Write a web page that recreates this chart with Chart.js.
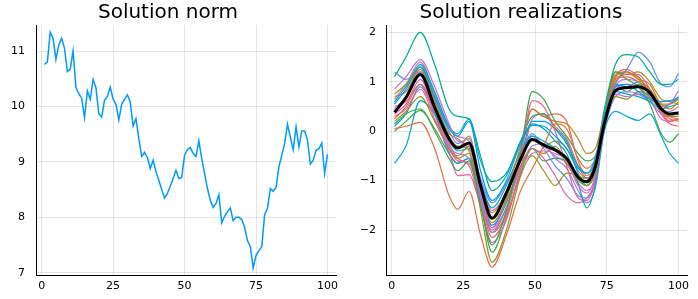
<!DOCTYPE html>
<html>
<head>
<meta charset="utf-8">
<script src="https://cdn.jsdelivr.net/npm/chart.js@4/dist/chart.umd.min.js"></script>
<style>
  body { margin: 0; width: 698px; height: 299px; overflow: hidden; position: relative; background: #fff; }
  canvas { position: absolute; top: 0; }
</style>
</head>
<body>
<canvas id="normChart" width="372" height="299" style="left:0px"></canvas>
<canvas id="realChart" width="362" height="299" style="left:355px"></canvas>
<script>
// Left panel: norm of the solution at steps 1..100
const normValues = [
  10.76, 10.80, 11.34, 11.23, 10.85, 11.11, 11.23, 11.05, 10.63, 10.67,
  11.00, 10.34, 10.23, 10.15, 9.80, 10.28, 10.13, 10.49, 10.34, 9.87,
  9.81, 10.11, 10.18, 10.35, 10.13, 10.04, 9.76, 10.04, 10.13, 10.21,
  10.08, 9.65, 9.78, 9.42, 9.10, 9.17, 9.08, 8.88, 9.03, 8.82,
  8.67, 8.50, 8.35, 8.43, 8.56, 8.70, 8.85, 8.70, 8.72, 9.12,
  9.22, 9.26, 9.15, 9.10, 9.38, 9.06, 8.79, 8.52, 8.31, 8.18,
  8.25, 8.41, 7.90, 8.02, 8.10, 8.17, 7.94, 8.00, 8.00, 7.96,
  7.82, 7.58, 7.47, 7.09, 7.31, 7.40, 7.47, 8.05, 8.16, 8.52,
  8.47, 8.54, 8.91, 9.12, 9.33, 9.68, 9.45, 9.22, 9.63, 9.27,
  9.56, 9.56, 9.39, 8.96, 9.03, 9.21, 9.24, 9.34, 8.79, 9.14
];

// Right panel: realizations sampled at these x positions
const realX = [1, 5, 10, 15, 20, 23, 27, 31, 35, 40, 45, 49, 53, 57, 61, 65, 68, 71, 74, 78, 82, 86, 90, 94, 97, 100];

const meanValues = [0.38, 0.68, 1.15, 0.48, -0.15, -0.34, -0.24, -1.10, -1.76, -1.25, -0.56, -0.17, -0.28, -0.38, -0.55, -0.93, -1.02, -0.72, 0.12, 0.82, 0.88, 0.90, 0.78, 0.45, 0.35, 0.37];

const realizations = [
  [0.55, 0.85, 1.30, 0.70, 0.05, -0.10, 0.20, -0.80, -1.40, -1.00, -0.25, 0.12, 0.10, -0.10, -0.35, -0.75, -0.85, -0.55, 0.25, 0.90, 0.95, 0.80, 0.65, 0.60, 0.62, 0.68],
  [0.05, 0.10, 0.18, -0.35, -1.30, -1.58, -1.22, -2.10, -2.75, -2.10, -1.20, -0.76, -0.30, 0.15, 0.05, -0.55, -0.75, -0.55, 0.20, 1.05, 1.10, 1.00, 0.80, 0.40, 0.25, 0.20],
  [0.15, 0.35, 0.45, 0.00, -0.55, -0.80, -0.60, -1.50, -2.30, -1.60, -0.40, 0.80, 0.65, 0.20, -0.10, -0.45, -0.60, -0.50, 0.30, 1.20, 1.05, 0.90, 0.55, -0.05, -0.22, -0.05],
  [0.85, 1.10, 1.45, 0.90, 0.15, -0.20, -0.30, -1.25, -1.95, -1.55, -0.75, -0.45, -0.40, -0.45, -0.60, -1.10, -1.25, -0.90, 0.05, 0.75, 0.70, 0.75, 0.65, 0.50, 0.55, 0.82],
  [0.75, 0.95, 1.30, 0.60, -0.05, -0.15, -0.40, -1.20, -1.85, -1.40, -0.70, -0.35, -0.45, -0.30, -0.65, -1.00, -1.10, -0.80, 0.20, 1.10, 1.20, 1.05, 0.85, 0.55, 0.45, 0.60],
  [0.60, 0.90, 1.35, 0.80, 0.10, -0.05, 0.25, -0.60, -1.02, -0.85, -0.20, 0.15, 0.05, -0.20, -0.45, -1.05, -1.55, -1.10, 0.00, 0.80, 0.75, 0.70, 0.60, 0.45, 0.50, 0.55],
  [0.30, 0.45, 0.85, 0.25, -0.40, -0.90, -0.88, -1.50, -2.00, -1.55, -0.55, 0.62, 0.50, 0.00, -0.70, -1.35, -1.40, -1.00, 0.10, 1.05, 1.15, 1.15, 0.85, 0.40, 0.20, 0.25],
  [0.70, 0.80, 1.25, 0.55, -0.20, -0.35, -0.10, -1.05, -1.65, -1.20, -0.30, 0.45, 0.30, 0.20, 0.15, -0.15, -0.45, -0.35, 0.30, 1.00, 1.15, 1.10, 0.75, 0.55, 0.55, 0.65],
  [1.10, 1.50, 2.00, 1.35, 0.45, 0.30, 0.25, -0.50, -1.20, -0.90, -0.20, 0.30, 0.35, 0.05, -0.25, -0.70, -0.85, -0.60, 0.40, 1.35, 1.55, 1.50, 1.20, 0.95, 0.95, 1.05],
  [0.20, 0.40, 0.70, 0.20, -0.35, -0.55, -0.45, -1.60, -2.65, -2.00, -0.90, -0.50, -0.80, -1.10, -0.85, -0.90, -1.05, -0.80, 0.10, 0.70, 0.65, 0.80, 0.70, 0.40, 0.30, 0.30],
  [-0.65, -0.30, 0.62, 0.35, -0.20, -0.40, -0.35, -1.05, -1.55, -1.10, -0.40, -0.10, -0.20, -0.35, -0.55, -0.95, -1.10, -0.85, 0.00, 0.40, 0.30, 0.22, 0.35, -0.10, -0.45, -0.65],
  [0.45, 0.70, 1.20, 0.55, -0.30, -0.45, -0.55, -1.35, -2.05, -1.55, -0.70, -0.30, -0.25, -0.55, -0.75, -1.20, -1.45, -1.15, -0.05, 0.70, 0.80, 0.75, 0.60, 0.35, 0.30, 0.40],
  [1.20, 1.05, 1.20, 0.65, 0.00, -0.25, -0.15, -0.95, -1.45, -1.05, -0.45, -0.05, -0.35, -0.70, -0.95, -1.30, -1.35, -1.00, 0.05, 0.95, 1.25, 1.60, 1.40, 0.95, 0.90, 1.17],
  [0.50, 0.60, 0.95, 0.35, -0.35, -0.60, -0.65, -1.40, -2.15, -1.70, -0.75, 0.25, 0.35, 0.10, -0.15, -0.70, -0.95, -0.75, 0.15, 1.10, 1.25, 1.10, 0.80, 0.35, 0.15, 0.10],
  [0.35, 0.55, 1.05, 0.40, -0.25, -0.55, -0.70, -1.50, -2.25, -1.80, -0.80, -0.35, -0.55, -0.90, -1.30, -1.45, -1.35, -1.00, 0.00, 0.85, 0.95, 0.90, 0.65, 0.25, 0.20, 0.25],
  [0.10, 0.35, 0.90, 0.35, -0.45, -0.65, -0.55, -1.30, -1.90, -1.45, -0.55, 0.20, 0.20, 0.05, -0.20, -0.85, -1.10, -0.80, 0.15, 0.95, 0.90, 1.00, 0.70, 0.50, 0.55, 0.65],
  [0.25, 0.50, 0.95, 0.45, -0.30, -0.50, -0.30, -1.25, -1.95, -1.35, -0.45, 0.45, 0.30, 0.35, 0.20, -0.60, -0.90, -0.65, 0.30, 1.15, 1.20, 1.05, 0.95, 0.50, 0.30, 0.25],
  [0.00, 0.20, 0.42, 0.05, -0.45, -0.65, -0.55, -1.45, -2.45, -1.75, -0.85, -0.35, -0.60, -0.55, -0.60, -0.90, -0.95, -0.65, 0.25, 0.95, 0.80, 0.95, 0.75, 0.45, 0.55, 0.70],
  [0.65, 0.95, 1.40, 0.75, 0.10, -0.10, -0.20, -1.00, -1.60, -1.25, -0.60, -0.10, -0.30, -0.50, -0.65, -1.05, -1.20, -0.95, 0.10, 0.90, 1.05, 1.00, 0.80, 0.45, 0.40, 0.50],
  [0.40, 0.70, 1.30, 0.65, -0.10, -0.30, -0.35, -1.20, -2.05, -1.65, -0.60, -0.15, -0.30, -0.20, -0.35, -0.80, -0.95, -0.75, 0.20, 1.20, 1.15, 1.20, 1.00, 0.65, 0.60, 0.55]
];

const realColors = [
  "#009AFA", "#E36F47", "#3EA44E", "#C371D2", "#AC8E18",
  "#00AAAE", "#ED5E93", "#C68225", "#00A98D", "#8E971E",
  "#00A9CB", "#9B7FE8", "#618DF5", "#F05F73", "#DD65B6",
  "#009AFA", "#E36F47", "#3EA44E", "#C371D2", "#AC8E18"
];

const xTicks = [0, 25, 50, 75, 100];
const normYTicks = [7, 8, 9, 10, 11];
const realYTicks = [-2, -1, 0, 1, 2];

const FONT = "'DejaVu Sans', sans-serif";

function fmt(v) {
  return v < 0 ? "\u2212" + Math.abs(v) : String(v);
}

// shared options for both panels
function makeOptions(title, yMin, yMax, yTicks, yWidth, rightPad, yPad) {
  return {
    responsive: false,
    animation: false,
    layout: { padding: { left: 0, right: rightPad, top: 0, bottom: 0 } },
    plugins: {
      legend: { display: false },
      tooltip: { enabled: false },
      title: {
        display: true,
        text: title,
        color: "#000",
        font: { family: FONT, size: 20, weight: "normal" },
        padding: { top: 1, bottom: 0 }
      }
    },
    scales: {
      x: {
        type: "linear",
        min: -1.97,
        max: 102.97,
        afterBuildTicks: (s) => { s.ticks = xTicks.map((v) => ({ value: v })); },
        afterFit: (s) => { s.height = 24; },
        ticks: {
          color: "#000",
          font: { family: FONT, size: 11 },
          padding: 5,
          maxRotation: 0,
          callback: (v) => fmt(v)
        },
        grid: { color: "rgba(0,0,0,0.1)", drawTicks: false },
        border: { color: "#000", width: 1 }
      },
      y: {
        type: "linear",
        min: yMin,
        max: yMax,
        afterBuildTicks: (s) => { s.ticks = yTicks.map((v) => ({ value: v })); },
        afterFit: (s) => { s.width = yWidth; },
        ticks: {
          color: "#000",
          font: { family: FONT, size: 11 },
          padding: yPad,
          callback: (v) => fmt(v)
        },
        grid: { color: "rgba(0,0,0,0.1)", drawTicks: false },
        border: { color: "#000", width: 1 }
      }
    }
  };
}

// Solution norm
new Chart(document.getElementById("normChart"), {
  type: "line",
  data: {
    datasets: [{
      data: normValues.map((v, i) => ({ x: i + 1, y: v })),
      borderColor: "#009AFA",
      borderWidth: 1.5,
      pointRadius: 0,
      tension: 0
    }]
  },
  options: makeOptions("Solution norm", 6.96, 11.47, normYTicks, 36, 36, 11)
});

// Solution realizations + mean (black)
const realDatasets = realizations.map((vals, k) => ({
  data: vals.map((v, i) => ({ x: realX[i], y: v })),
  borderColor: realColors[k],
  borderWidth: 1.2,
  pointRadius: 0,
  cubicInterpolationMode: "monotone",
  order: 1
}));
realDatasets.unshift({
  data: meanValues.map((v, i) => ({ x: realX[i], y: v })),
  borderColor: "#000",
  borderWidth: 3,
  pointRadius: 0,
  cubicInterpolationMode: "monotone",
  order: 0
});

new Chart(document.getElementById("realChart"), {
  type: "line",
  data: { datasets: realDatasets },
  options: makeOptions("Solution realizations", -2.91, 2.15, realYTicks, 31, 30, 10)
});
</script>
</body>
</html>
